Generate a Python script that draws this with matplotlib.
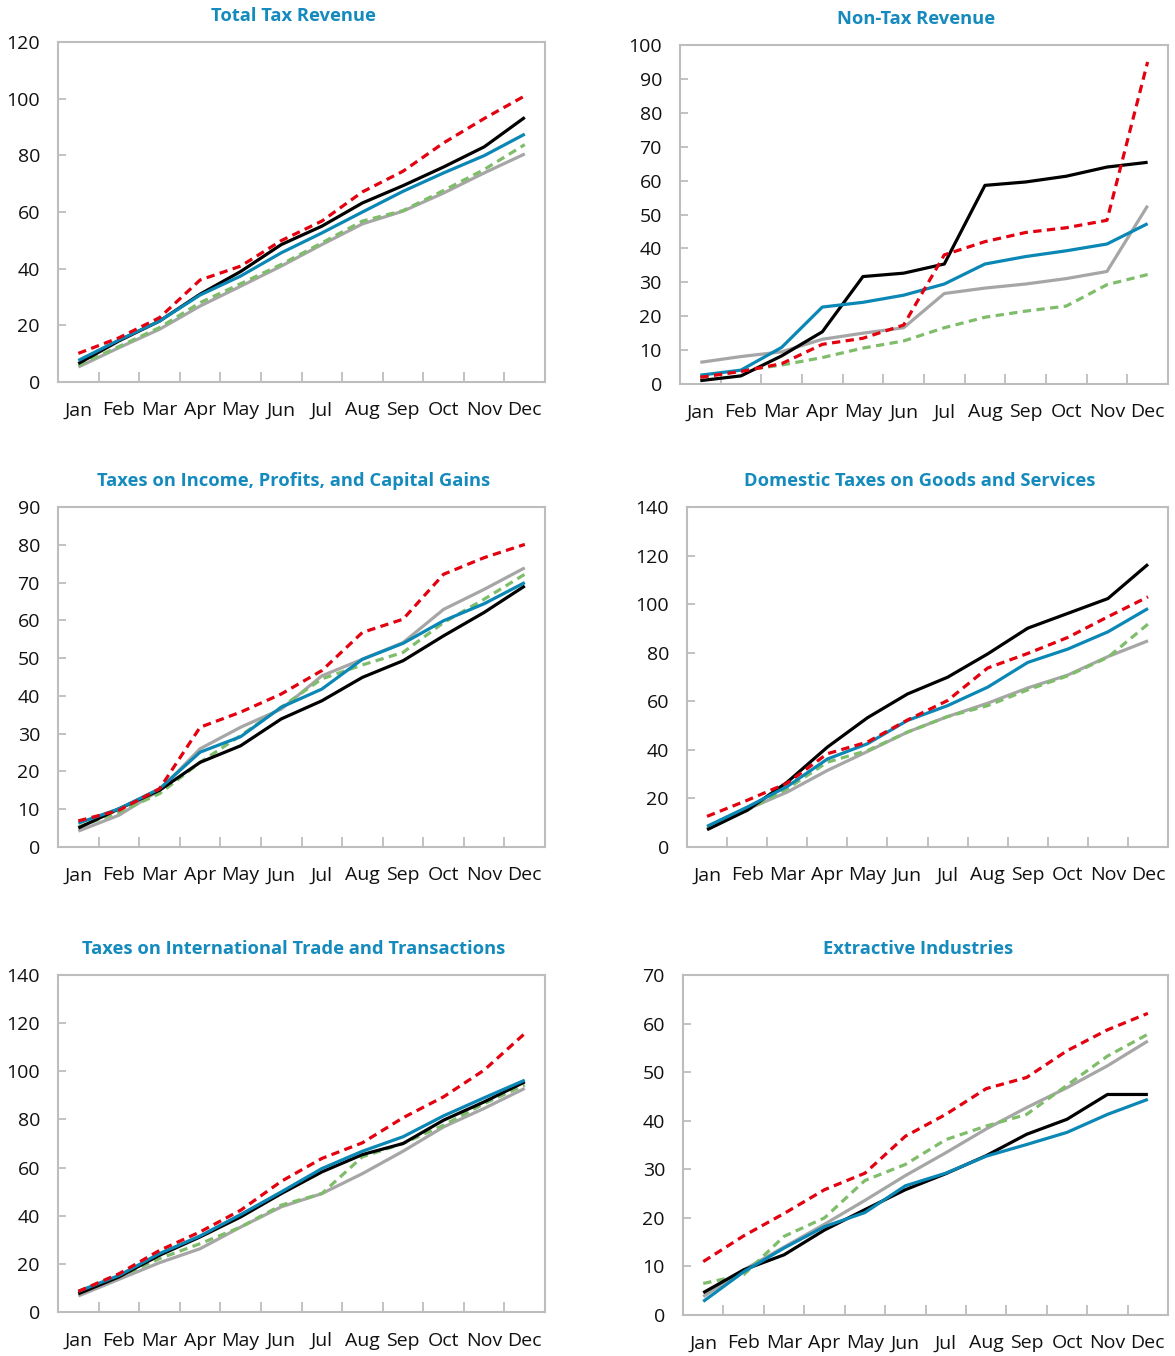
import matplotlib
matplotlib.use("Agg")
import matplotlib.pyplot as plt
import numpy as np

plt.rcParams['font.family'] = ['Open Sans', 'DejaVu Sans']

months = ['Jan', 'Feb', 'Mar', 'Apr', 'May', 'Jun', 'Jul', 'Aug', 'Sep', 'Oct', 'Nov', 'Dec']

# Total Tax Revenue
total_red = [10.1, 15.6, 22.7, 36.0, 40.9, 49.9, 56.8, 67.1, 74.4, 84.4, 93.0, 101.0]
total_green = [5.9, 12.5, 19.2, 28.0, 34.7, 41.5, 49.1, 56.8, 60.5, 67.6, 75.0, 83.8]
total_gray = [5.3, 12.1, 18.6, 26.8, 33.8, 40.9, 48.5, 55.8, 60.3, 66.7, 73.8, 80.5]
total_blue = [7.6, 14.8, 21.5, 30.7, 37.4, 45.6, 52.6, 60.0, 67.3, 73.8, 79.9, 87.5]
total_black = [6.5, 14.5, 21.5, 31.0, 39.0, 48.5, 55.0, 63.2, 69.3, 75.9, 83.0, 93.4]

# Non-Tax Revenue
nontax_red = [2.0, 3.7, 6.0, 11.7, 13.5, 17.4, 38.1, 42.0, 44.7, 46.1, 48.3, 95.0]
nontax_green = [2.0, 3.9, 5.6, 7.8, 10.6, 12.7, 16.6, 19.7, 21.5, 23.0, 29.3, 32.3]
nontax_gray = [6.4, 8.1, 9.5, 13.2, 15.0, 16.6, 26.7, 28.3, 29.5, 31.1, 33.2, 52.6]
nontax_blue = [2.6, 4.1, 10.8, 22.7, 24.1, 26.2, 29.5, 35.4, 37.6, 39.3, 41.3, 47.3]
nontax_black = [1.0, 2.4, 8.3, 15.4, 31.7, 32.7, 35.4, 58.6, 59.6, 61.3, 64.0, 65.4]

# Taxes on Income, Profits, and Capital Gains
income_red = [6.9, 9.7, 15.4, 31.7, 35.7, 40.5, 46.7, 56.8, 60.3, 72.2, 76.6, 80.1]
income_green = [5.3, 9.2, 14.1, 22.4, 29.5, 37.0, 44.5, 48.2, 51.5, 59.4, 65.6, 72.2]
income_gray = [4.2, 8.4, 15.0, 26.0, 31.7, 36.5, 45.3, 49.7, 54.1, 62.9, 68.2, 73.9]
income_blue = [6.3, 10.1, 15.4, 25.1, 29.2, 37.0, 41.8, 49.7, 53.9, 59.9, 64.4, 70.0]
income_black = [5.0, 10.1, 15.0, 22.4, 26.8, 33.9, 38.7, 44.9, 49.3, 55.9, 62.1, 69.1]

# Domestic Taxes on Goods and Services
domestic_red = [12.6, 19.2, 26.3, 38.4, 43.2, 52.3, 60.3, 73.7, 79.7, 86.3, 94.8, 103.0]
domestic_green = [8.2, 15.1, 24.0, 34.9, 39.7, 47.3, 53.7, 58.2, 64.7, 70.5, 78.1, 91.8]
domestic_gray = [7.5, 15.5, 22.6, 31.5, 39.3, 47.3, 53.7, 59.2, 65.5, 70.8, 78.4, 84.9]
domestic_blue = [8.5, 16.4, 24.9, 36.2, 42.5, 52.1, 58.2, 65.8, 76.0, 81.5, 88.6, 98.2]
domestic_black = [7.1, 15.1, 26.7, 41.1, 53.2, 63.0, 69.9, 79.5, 90.1, 96.2, 102.3, 116.4]

# Taxes on International Trade and Transactions
trade_red = [8.6, 15.9, 25.6, 33.3, 42.3, 54.3, 63.8, 70.3, 80.7, 89.4, 100.5, 115.7]
trade_green = [7.6, 14.6, 22.2, 28.4, 35.3, 44.4, 49.2, 64.5, 70.0, 77.6, 86.6, 94.3]
trade_gray = [6.7, 13.6, 20.5, 26.3, 35.3, 43.7, 49.2, 57.5, 66.8, 76.9, 84.6, 92.9]
trade_blue = [8.6, 15.2, 24.3, 31.6, 40.5, 49.9, 59.6, 66.8, 72.8, 81.5, 89.0, 96.3]
trade_black = [7.6, 14.6, 23.6, 31.2, 39.5, 49.2, 58.2, 65.4, 70.0, 79.7, 87.3, 95.6]

# Extractive Industries
extract_red = [11.0, 16.3, 20.9, 25.8, 29.2, 36.8, 41.3, 46.6, 48.9, 54.4, 58.7, 62.1]
extract_green = [6.5, 8.3, 16.2, 20.0, 27.7, 31.0, 36.1, 38.9, 41.3, 47.3, 53.3, 57.8]
extract_gray = [3.8, 9.3, 14.0, 18.7, 23.6, 28.7, 33.4, 38.3, 42.7, 46.8, 51.3, 56.4]
extract_blue = [2.8, 8.9, 13.8, 18.2, 21.1, 26.6, 29.2, 32.7, 35.1, 37.6, 41.3, 44.4]
extract_black = [4.6, 9.3, 12.4, 17.5, 21.7, 25.8, 29.1, 32.8, 37.2, 40.3, 45.4, 45.4]

panels = [
    ("Total Tax Revenue", [total_gray, total_green, total_black, total_blue, total_red], 120, 20,
     [0.0494, 0.7183, 0.4145, 0.2507]),
    ("Non-Tax Revenue", [nontax_gray, nontax_green, nontax_black, nontax_blue, nontax_red], 100, 10,
     [0.5787, 0.7168, 0.4153, 0.2500]),
    ("Taxes on Income, Profits, and Capital Gains",
     [income_gray, income_green, income_black, income_blue, income_red], 90, 10,
     [0.0494, 0.3754, 0.4145, 0.2507]),
    ("Domestic Taxes on Goods and Services",
     [domestic_gray, domestic_green, domestic_black, domestic_blue, domestic_red], 140, 20,
     [0.5847, 0.3754, 0.4094, 0.2507]),
    ("Taxes on International Trade and Transactions",
     [trade_gray, trade_green, trade_black, trade_blue, trade_red], 140, 20,
     [0.0494, 0.0324, 0.4145, 0.2486]),
    ("Extractive Industries",
     [extract_gray, extract_green, extract_black, extract_blue, extract_red], 70, 10,
     [0.5813, 0.0302, 0.4128, 0.2508]),
]

# gray, green, black, blue, red
colors = ['#a6a6a6', '#7fbd6a', '#000000', '#0a87b5', '#e3000f']
styles = ['-', (0, (2.6, 1.7)), '-', '-', (0, (2.6, 1.7))]
title_color = '#148abd'
spine_color = '#bdbdbd'

fig = plt.figure(figsize=(11.75, 13.56), dpi=100)
x = np.arange(len(months))

for title, series, ymax, step, pos in panels:
    ax = fig.add_axes(pos)
    for vals, c, ls in zip(series, colors, styles):
        ax.plot(x, vals, color=c, linestyle=ls, linewidth=2.3, solid_capstyle='butt')
    ax.set_xlim(-0.5, 11.5)
    ax.set_ylim(0, ymax)
    ax.set_yticks(np.arange(0, ymax + 1, step))
    ax.set_xticks(x)
    ax.set_xticklabels(months)
    ax.set_xticks(np.arange(0.5, 11, 1), minor=True)
    ax.tick_params(axis='x', which='major', length=0, pad=14, labelsize=14, colors='#111111')
    ax.tick_params(axis='x', which='minor', direction='in', length=7, width=1.3, color=spine_color)
    ax.tick_params(axis='y', direction='in', length=6, width=1.3, color=spine_color,
                   pad=13, labelsize=14, labelcolor='#111111')
    for s in ax.spines.values():
        s.set_color(spine_color)
        s.set_linewidth(1.5)
    t = ax.set_title(title, color=title_color, fontweight='bold', fontsize=13.2, pad=15)
    t.set_x(0.484)

fig.savefig('out.png', dpi=100)
